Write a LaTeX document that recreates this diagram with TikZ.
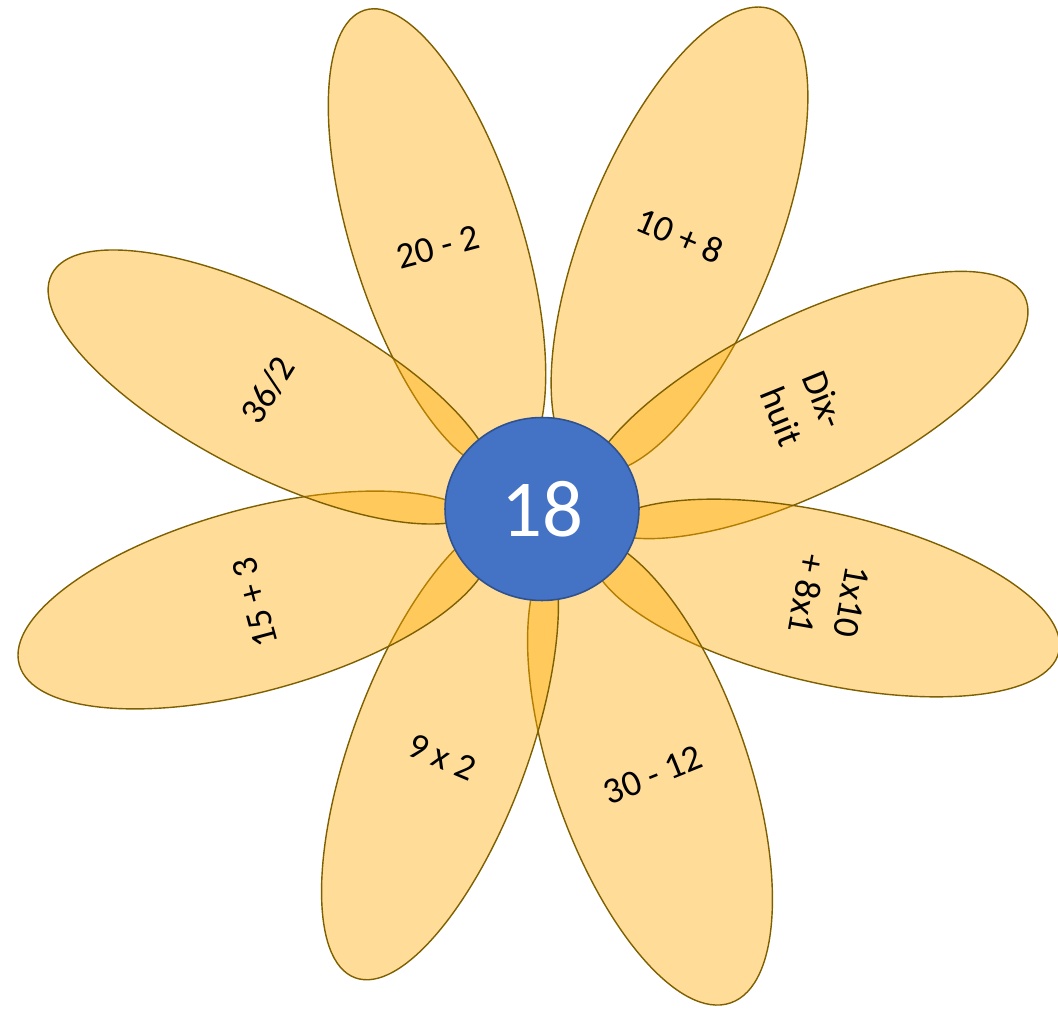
\documentclass[tikz,border=0pt]{standalone}
\usepackage{fontspec}
\setmainfont{Carlito}
\usepackage{tikz}
\usetikzlibrary{shapes.geometric}
\definecolor{petalfill}{RGB}{255,170,0}
\definecolor{petaledge}{HTML}{7F6000}
\definecolor{heartblue}{HTML}{4472C4}
\definecolor{heartedge}{HTML}{2F528F}

\begin{document}
\begin{tikzpicture}[x=0.02cm,y=0.02cm,
  petal/.style={ellipse, draw=petaledge, line width=0.8pt, fill=petalfill, fill opacity=0.4,
    draw opacity=1, minimum height=3.5cm, inner sep=0pt},
  lbl/.style={font=\fontsize{21}{26}\selectfont, text=black, align=center, inner sep=1pt},
  heart/.style={ellipse, draw=heartedge, line width=0.9pt, fill=heartblue, text=white,
    minimum width=3.88cm, minimum height=3.66cm, font=\fontsize{46}{50}\selectfont}
]
\clip (0,0) rectangle (1058,1008);
% petals, clockwise from the top left
\node[petal,minimum width=9.64cm,minimum height=3.40cm,rotate=107.5] (p1) at (437,768) {};
\node[petal,minimum width=9.94cm,minimum height=3.80cm,rotate=67.9] (p2) at (679.5,768) {};
\node[petal,minimum width=9.80cm,minimum height=3.48cm,rotate=26.3] (p3) at (805,603) {};
\node[petal,minimum width=9.60cm,minimum height=3.40cm,rotate=-13] (p4) at (825,410) {};
\node[petal,minimum width=9.86cm,minimum height=3.90cm,rotate=-70.9] (p5) at (650,238) {};
\node[petal,minimum width=9.80cm,minimum height=3.52cm,rotate=-110.3] (p6) at (440,260) {};
\node[petal,minimum width=9.78cm,minimum height=3.64cm,rotate=-164.7] (p7) at (255,408) {};
\node[petal,minimum width=9.90cm,minimum height=3.50cm,rotate=152.9] (p8) at (272,621) {};
% labels
\node[lbl,rotate=15] (t1) at (438,761) {20 - 2};
\node[lbl,rotate=-23] (t2) at (680,772) {10 + 8};
\node[lbl,rotate=-68] (t3) at (803,600) {Dix-\\huit};
\node[lbl,rotate=-100] (t4) at (829,410) {1x10\\+ 8x1};
\node[lbl,rotate=22] (t5) at (653,233) {30 - 12};
\node[lbl,rotate=-23] (t6) at (442,251) {9 x 2};
\node[lbl,rotate=105] (t7) at (255,405) {15 + 3};
\node[lbl,rotate=58] (t8) at (268,618) {36/2};
% centre
\node[heart] (ctr) at (542,499) {18};
\end{tikzpicture}
\end{document}
